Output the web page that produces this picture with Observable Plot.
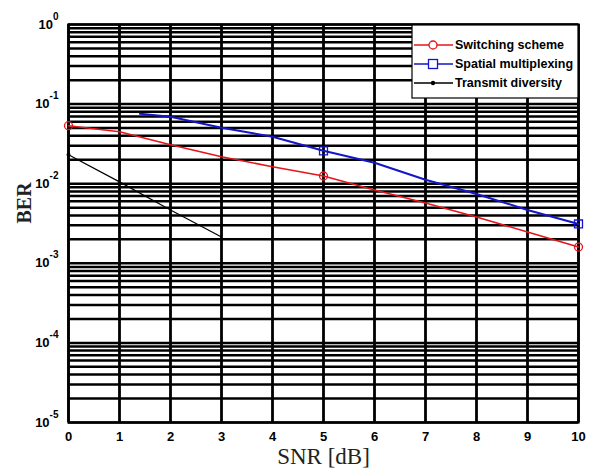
<!DOCTYPE html>
<html><head><meta charset="utf-8">
<script src="https://cdn.jsdelivr.net/npm/d3@7"></script>
<script src="https://cdn.jsdelivr.net/npm/@observablehq/plot@0.6"></script>
<style>body{margin:0;background:#fff}</style>
</head><body><div id="chart"></div>
<script>
// x tick values and y decade ticks
const xTicks = [0,1,2,3,4,5,6,7,8,9,10];
const yTicks = [1e-5,1e-4,1e-3,1e-2,1e-1,1];

// Switching scheme
const snrSwitching = [0,1,2,3,4,5,6,7,8,9,10];
const berSwitching = [0.0535,0.0449,0.0308,0.0218,0.0163,0.0125,0.00835,0.00573,0.00382,0.00247,0.0016];
const switchingMarkers = [0,5,10];

// Spatial multiplexing
const snrSpatial = [1.4,2,3,4,5,6,7,8,9,10];
const berSpatial = [0.0757,0.0694,0.0505,0.0389,0.0259,0.0183,0.0112,0.00744,0.00468,0.00312];
const spatialMarkers = [5,10];

// Transmit diversity
const snrTransmit = [0,1,2,3];
const berTransmit = [0.0231,0.01054,0.00468,0.00214];
const transmitMarkers = [0];

const seriesNames = ["Switching scheme","Spatial multiplexing","Transmit diversity"];
const colRed = "#e8141a", colBlue = "#1414c8", colBlack = "#000";

const pts = (xs, ys) => xs.map((x,i)=>({x, y: ys[i]}));
const sw = pts(snrSwitching, berSwitching);
const sp = pts(snrSpatial, berSpatial);
const tr = pts(snrTransmit, berTransmit);

const chart = Plot.plot({
  width: 589, height: 470,
  marginLeft: 68, marginRight: 11, marginTop: 24, marginBottom: 48,
  style: {fontFamily: "'Liberation Sans', Arial, sans-serif", fontSize: "13px", fontWeight: "bold", background: "white", color: "black", overflow: "visible"},
  x: {domain: [0,10], ticks: xTicks, tickSize: 0, tickPadding: 9, label: null},
  y: {type: "log", domain: [1e-5,1], ticks: yTicks, tickSize: 0, tickPadding: 10,
      tickFormat: d => "10^" + Math.round(Math.log10(d)), label: null},
  marks: [
    Plot.ruleY(d3.scaleLog().domain([1e-5,1]).ticks(), {stroke: "black", strokeWidth: 2.5}),
    Plot.ruleX(xTicks, {stroke: "black", strokeWidth: 2.8}),
    Plot.frame({stroke: "black", strokeWidth: 2.2}),
    Plot.line(tr, {x: "x", y: "y", stroke: colBlack, strokeWidth: 1.2}),
    Plot.line(sw, {x: "x", y: "y", stroke: colRed, strokeWidth: 1.6}),
    Plot.line(sp, {x: "x", y: "y", stroke: colBlue, strokeWidth: 2}),
    Plot.dot(sw.filter(d => switchingMarkers.includes(d.x)), {x: "x", y: "y", r: 4, stroke: colRed, fill: "none", strokeWidth: 1.3}),
    Plot.dot(sp.filter(d => spatialMarkers.includes(d.x)), {x: "x", y: "y", r: 4.5, symbol: "square", stroke: colBlue, fill: "none", strokeWidth: 1.3}),
    Plot.dot(tr.filter(d => transmitMarkers.includes(d.x)), {x: "x", y: "y", r: 2, fill: colBlack}),
    Plot.text(["SNR [dB]"], {frameAnchor: "bottom", dy: 34, lineAnchor: "middle", fontFamily: "'Liberation Serif', 'Times New Roman', serif", fontSize: 23, fontWeight: "normal", fill: "#222"}),
    Plot.text(["BER"], {frameAnchor: "left", dx: -44, lineAnchor: "middle", rotate: -90, fontFamily: "'Liberation Serif', 'Times New Roman', serif", fontSize: 20, fontWeight: "bold", fill: "#222"})
  ]
});
document.getElementById("chart").appendChild(chart);

// superscript y tick labels
const svg = d3.select(chart);
svg.selectAll('g[aria-label="y-axis tick label"] text').each(function() {
  const t = d3.select(this);
  const parts = t.text().split("^");
  t.text("");
  t.append("tspan").text(parts[0]);
  t.append("tspan").attr("dy", -9).attr("font-size", "10px").text(parts[1]);
});

// legend inside plot, top-right
const leg = svg.append("g");
const lx = 412, ly = 25, lw = 166, lh = 73;
leg.append("rect").attr("x", lx).attr("y", ly).attr("width", lw).attr("height", lh)
  .attr("fill", "white").attr("stroke", "black").attr("stroke-width", 1.2);
const legColors = [colRed, colBlue, colBlack];
seriesNames.forEach((name, i) => {
  const yy = 45 + i * 19;
  leg.append("line").attr("x1", 414).attr("x2", 453).attr("y1", yy).attr("y2", yy)
    .attr("stroke", legColors[i]).attr("stroke-width", i === 2 ? 1.3 : 1.5);
  if (i === 0) leg.append("circle").attr("cx", 433).attr("cy", yy).attr("r", 4).attr("fill", "white").attr("stroke", colRed).attr("stroke-width", 1.3);
  if (i === 1) leg.append("rect").attr("x", 428.5).attr("y", yy - 4.5).attr("width", 9).attr("height", 9).attr("fill", "white").attr("stroke", colBlue).attr("stroke-width", 1.3);
  if (i === 2) leg.append("circle").attr("cx", 433).attr("cy", yy).attr("r", 2.2).attr("fill", "black");
  leg.append("text").attr("x", 455).attr("y", yy).attr("dy", "0.35em").attr("text-anchor", "start")
    .attr("font-size", "12.5px").attr("font-weight", "bold").attr("fill", "black").text(name);
});
</script>
</body></html>
